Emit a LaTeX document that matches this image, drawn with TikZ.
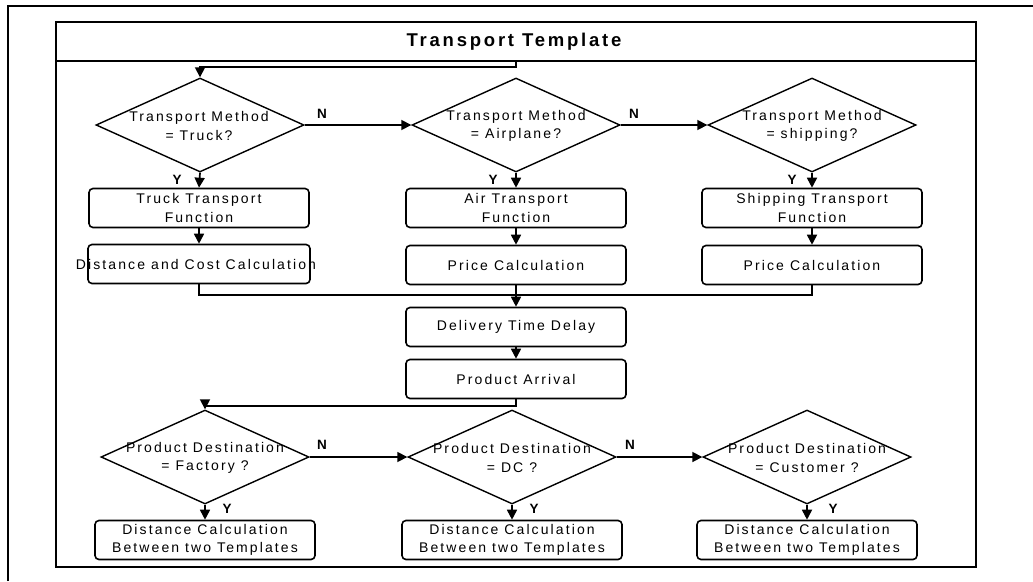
\documentclass[tikz,border=0pt]{standalone}
\usepackage{fontspec}
\setmainfont{Liberation Sans}[LetterSpace=15]
\usetikzlibrary{arrows.meta,shapes.geometric}

\newcommand{\bodyfont}{\fontsize{14}{18.5}\selectfont}
\newcommand{\titlefont}{\bfseries\fontsize{18.5}{22}\selectfont}

\tikzset{
  frame/.style={line width=2pt},
  decision/.style={draw, shape=diamond, line width=1.4pt,
    minimum width=208pt, minimum height=94pt, inner sep=0pt},
  dectext/.style={align=center, font=\bodyfont, inner sep=0pt},
  stepbox/.style={draw, rounded corners=4pt, line width=1.6pt,
    minimum width=220pt, minimum height=39pt, inner sep=0pt,
    align=center, font=\bodyfont},
  plaintext/.style={font=\bodyfont, inner sep=0pt},
  flag/.style={font=\bfseries\fontsize{13.5}{15}\selectfont, inner sep=0pt},
  link/.style={line width=1.7pt},
  arr/.style={line width=1.7pt, -{Triangle[length=10pt,width=10pt]}},
}

\begin{document}
\begin{tikzpicture}[x=1pt,y=-1pt]
\useasboundingbox (0,0) rectangle (1033,581);
\fill[white] (0,0) rectangle (1033,581);

% outer frame, open to the right and bottom
\draw[frame] (8,581) -- (8,6) -- (1033,6);

% template frame with its title bar
\draw[frame] (56,22) rectangle (976,567);
\draw[frame] (56,61) -- (976,61);
\node[font=\titlefont, inner sep=0pt] (title) at (514,42) {Transport Template};
\coordinate (entry) at (516,61);

% transport method decisions
\node[decision] (d1) at (200,125) {};
\node[dectext] (d1t) at (199,126) {Transport Method\\= Truck?};
\node[decision] (d2) at (516,125) {};
\node[dectext] (d2t) at (516,126) {Transport Method\\= Airplane?};
\node[decision] (d3) at (812,125) {};
\node[dectext] (d3t) at (812,126) {Transport Method\\= shipping?};

% transport functions
\node[stepbox] (b1) at (199,208) {Truck Transport\\Function};
\node[stepbox] (b2) at (516,208) {Air Transport\\Function};
\node[stepbox] (b3) at (812,208) {Shipping Transport\\Function};

% cost calculations
\node[stepbox, minimum width=222pt] (p1) at (199,264) {};
\node[plaintext] (p1t) at (196,264) {Distance and Cost Calculation};
\node[stepbox] (p2) at (516,265) {Price Calculation};
\node[stepbox] (p3) at (812,265) {Price Calculation};

% delivery
\node[stepbox] (delay) at (516,327) {Delivery Time Delay};
\node[stepbox] (arrival) at (516,379) {Product Arrival};

% destination decisions
\node[decision] (d4) at (205,457) {};
\node[dectext] (d4t) at (205,458) {Product Destination\\= Factory ?};
\node[decision] (d5) at (512,457) {};
\node[dectext] (d5t) at (512,458) {Product Destination\\= DC ?};
\node[decision] (d6) at (807,457) {};
\node[dectext] (d6t) at (807,458) {Product Destination\\= Customer ?};

% distance calculations
\node[stepbox] (e1) at (205,540) {Distance Calculation\\Between two Templates};
\node[stepbox] (e2) at (512,540) {Distance Calculation\\Between two Templates};
\node[stepbox] (e3) at (807,540) {Distance Calculation\\Between two Templates};

% flow: transport method
\draw[arr] (entry) -- ++(0,6) -| (d1.north);
\draw[arr] (d1.east) -- (d2.west);
\draw[arr] (d2.east) -- (d3.west);
\draw[arr] (d1.south) -- (b1.north);
\draw[arr] (d2.south) -- (b2.north);
\draw[arr] (d3.south) -- (b3.north);
\draw[arr] (b1.south) -- (p1.north);
\draw[arr] (b2.south) -- (p2.north);
\draw[arr] (b3.south) -- (p3.north);

% merge into delivery
\coordinate (merge) at (516,295);
\draw[link] (p1.south) |- (merge);
\draw[link] (p3.south) |- (merge);
\draw[arr] (p2.south) -- (delay.north);
\draw[arr] (delay.south) -- (arrival.north);

% flow: destination
\draw[arr] (arrival.south) -- ++(0,7) -| (d4.north);
\draw[arr] (d4.east) -- (d5.west);
\draw[arr] (d5.east) -- (d6.west);
\draw[arr] (d4.south) -- (e1.north);
\draw[arr] (d5.south) -- (e2.north);
\draw[arr] (d6.south) -- (e3.north);

% branch flags
\node[flag] (n1) at (322,114) {N};
\node[flag] (n2) at (634,114) {N};
\node[flag] (y1) at (177,180) {Y};
\node[flag] (y2) at (493,180) {Y};
\node[flag] (y3) at (792,180) {Y};
\node[flag] (n3) at (322,445) {N};
\node[flag] (n4) at (630,445) {N};
\node[flag] (y4) at (227,509) {Y};
\node[flag] (y5) at (534,509) {Y};
\node[flag] (y6) at (833,509) {Y};
\end{tikzpicture}
\end{document}
